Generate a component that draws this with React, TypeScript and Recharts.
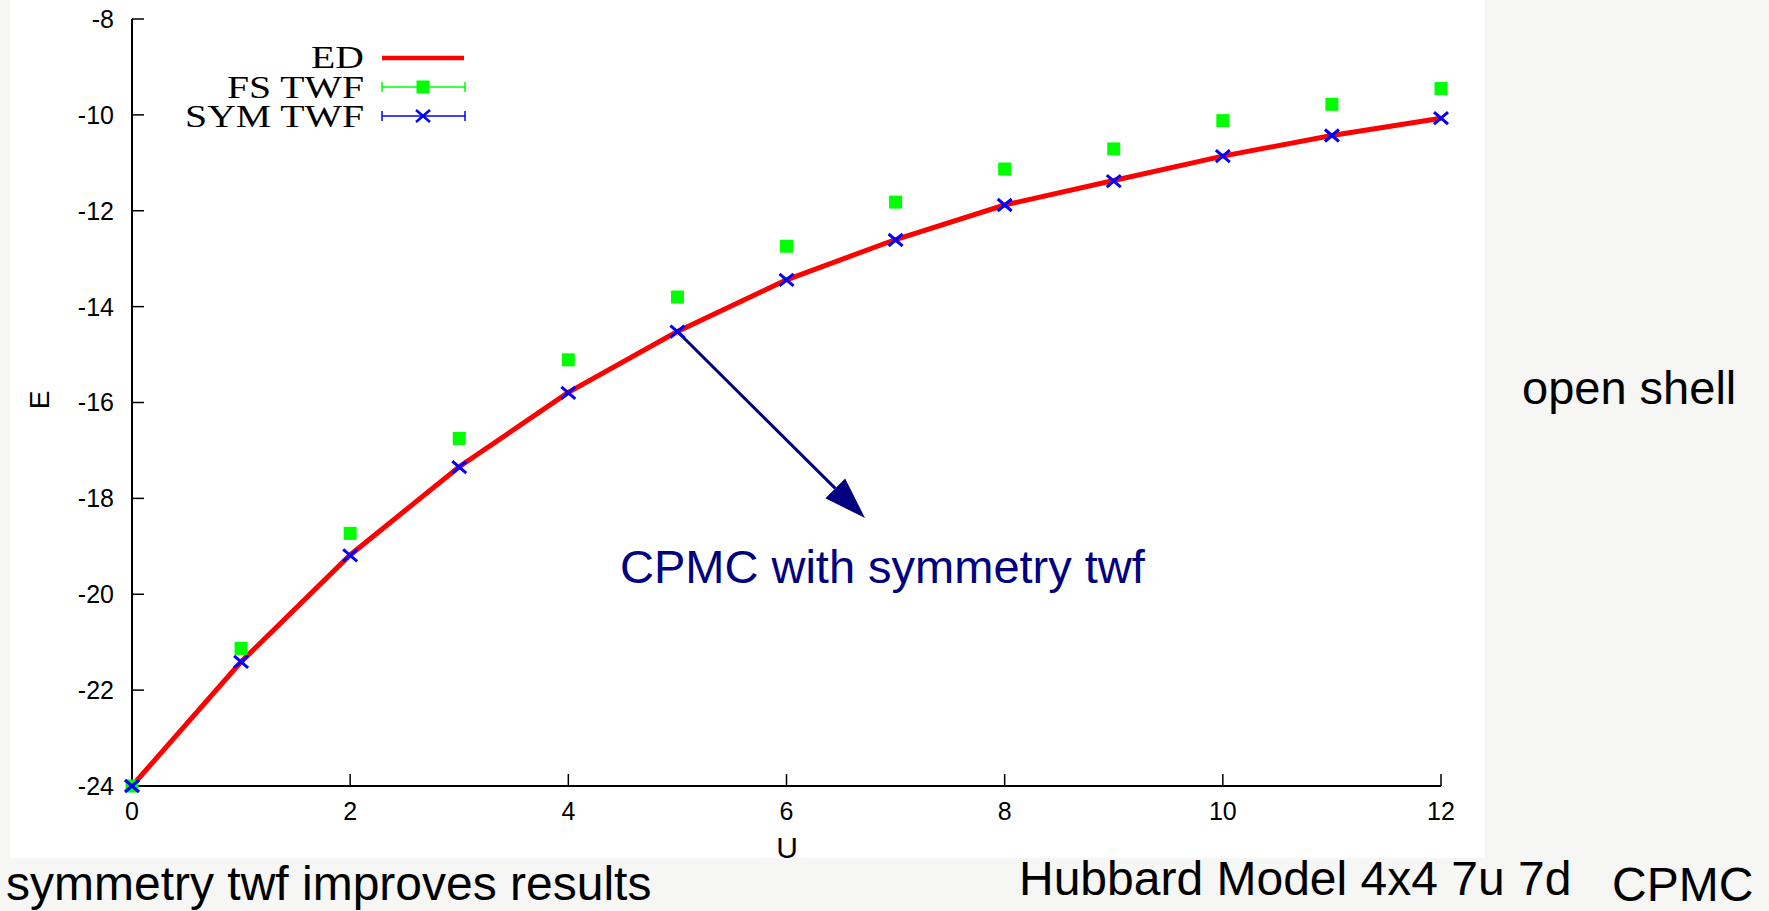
import {
	ComposedChart,
	Legend,
	Line,
	ReferenceLine,
	Scatter,
	XAxis,
	YAxis,
} from 'recharts';

const uValues = [0, 1, 2, 3, 4, 5, 6, 7, 8, 9, 10, 11, 12];
const edEnergy = [
	-24, -21.41, -19.18, -17.34, -15.79, -14.52, -13.44, -12.6, -11.88, -11.37,
	-10.86, -10.43, -10.07,
];
const fsTwfEnergy = [
	-24, -21.13, -18.73, -16.75, -15.11, -13.8, -12.74, -11.82, -11.13, -10.71,
	-10.12, -9.78, -9.45,
];
const symTwfEnergy = [
	-24, -21.41, -19.19, -17.35, -15.8, -14.52, -13.44, -12.61, -11.88, -11.38,
	-10.86, -10.43, -10.07,
];
const xTicks = [0, 2, 4, 6, 8, 10, 12];
const yTicks = [-24, -22, -20, -18, -16, -14, -12, -10, -8];

// annotation arrow, in data units
const arrowFrom = { x: 5, y: -14.52 };
const arrowTo = { x: 6.72, y: -18.41 };

const rows = uValues.map((u, i) => ({
	u,
	ed: edEnergy[i],
	fs: fsTwfEnergy[i],
	sym: symTwfEnergy[i],
}));

const SANS = '"Liberation Sans", Arial, sans-serif';
const SERIF = '"Liberation Serif", "Times New Roman", serif';
const RED = '#ff0000';
const GREEN = '#00ff00';
const BLUE = '#0000ff';
const NAVY = '#000080';

const tickStyle = { fill: '#000', fontSize: 25, fontFamily: SANS };

const SquareDot = (p: any) => (
	<rect x={p.cx - 6.5} y={p.cy - 6.5} width={13} height={13} fill={GREEN} />
);

const CrossDot = (p: any) => (
	<g stroke={BLUE} strokeWidth={3}>
		<line x1={p.cx - 7} y1={p.cy - 6} x2={p.cx + 7} y2={p.cy + 6} />
		<line x1={p.cx - 7} y1={p.cy + 6} x2={p.cx + 7} y2={p.cy - 6} />
	</g>
);

const Arrow = (p: any) => {
	const { x1, y1, x2, y2 } = p;
	const dx = x2 - x1;
	const dy = y2 - y1;
	const len = Math.hypot(dx, dy) || 1;
	const ux = dx / len;
	const uy = dy / len;
	const head = 42;
	const half = 14;
	const bx = x2 - ux * head;
	const by = y2 - uy * head;
	const pts = [
		`${x2},${y2}`,
		`${bx - uy * half},${by + ux * half}`,
		`${bx + uy * half},${by - ux * half}`,
	].join(' ');
	return (
		<g>
			<line x1={x1} y1={y1} x2={bx} y2={by} stroke={NAVY} strokeWidth={3} />
			<polygon points={pts} fill={NAVY} />
		</g>
	);
};

const renderLegend = () => (
	<svg width={480} height={140} style={{ display: 'block' }}>
		<g fontFamily={SERIF} fontSize={31} fill="#000" textAnchor="end">
			<text transform="translate(364,68) scale(1.28,1)">ED</text>
			<text transform="translate(364,98) scale(1.28,1)">FS TWF</text>
			<text transform="translate(364,127) scale(1.28,1)">SYM TWF</text>
		</g>
		<line x1={382} y1={58} x2={464} y2={58} stroke={RED} strokeWidth={4.5} />
		<g stroke={GREEN} strokeWidth={1.5}>
			<line x1={382} y1={87} x2={465} y2={87} />
			<line x1={382} y1={82} x2={382} y2={92} />
			<line x1={465} y1={82} x2={465} y2={92} />
		</g>
		<rect x={416.5} y={80.5} width={13} height={13} fill={GREEN} />
		<g stroke={BLUE} strokeWidth={1.5}>
			<line x1={382} y1={116} x2={465} y2={116} />
			<line x1={382} y1={111} x2={382} y2={121} />
			<line x1={465} y1={111} x2={465} y2={121} />
		</g>
		<g stroke={BLUE} strokeWidth={2.5}>
			<line x1={416} y1={110} x2={430} y2={122} />
			<line x1={416} y1={122} x2={430} y2={110} />
		</g>
	</svg>
);

export default function App() {
	return (
		<div
			style={{
				position: 'absolute',
				left: 0,
				top: 0,
				width: 1769,
				height: 911,
				background: '#f6f6f4',
				overflow: 'hidden',
			}}
		>
			<div
				style={{
					position: 'absolute',
					left: 10,
					top: 0,
					width: 1475,
					height: 858,
					background: '#ffffff',
				}}
			/>
			<div style={{ position: 'absolute', left: 0, top: 0 }}>
				<ComposedChart
					width={1480}
					height={860}
					data={rows}
					margin={{ top: 19, right: 39, bottom: 0, left: 0 }}
				>
					<XAxis
						dataKey="u"
						type="number"
						domain={[0, 12]}
						ticks={xTicks}
						interval={0}
						height={74}
						tickSize={-12}
						tickMargin={28}
						tick={tickStyle}
						axisLine={{ stroke: '#000', strokeWidth: 2 }}
						tickLine={{ stroke: '#000', strokeWidth: 1.5 }}
					/>
					<XAxis
						xAxisId="top"
						orientation="top"
						type="number"
						domain={[0, 12]}
						ticks={xTicks}
						interval={0}
						height={0}
						tickSize={-12}
						tick={() => <g />}
						axisLine={{ stroke: '#000', strokeWidth: 2 }}
						tickLine={{ stroke: '#000', strokeWidth: 1.5 }}
					/>
					<YAxis
						type="number"
						domain={[-24, -8]}
						ticks={yTicks}
						interval={0}
						width={132}
						tickSize={-12}
						tickMargin={30}
						tick={tickStyle}
						axisLine={{ stroke: '#000', strokeWidth: 2 }}
						tickLine={{ stroke: '#000', strokeWidth: 1.5 }}
					/>
					<YAxis
						yAxisId="right"
						orientation="right"
						type="number"
						domain={[-24, -8]}
						ticks={yTicks}
						interval={0}
						width={0}
						tickSize={-12}
						tick={() => <g />}
						axisLine={{ stroke: '#000', strokeWidth: 2 }}
						tickLine={{ stroke: '#000', strokeWidth: 1.5 }}
					/>
					<Legend
						content={renderLegend}
						layout="horizontal"
						verticalAlign="middle"
						align="center"
						wrapperStyle={{ top: 0, left: 0, width: 480, height: 140 }}
					/>
					<Line
						dataKey="ed"
						name="ED"
						type="linear"
						stroke={RED}
						strokeWidth={5}
						dot={false}
						activeDot={false}
						isAnimationActive={false}
					/>
					<Scatter
						dataKey="fs"
						name="FS TWF"
						shape={SquareDot}
						isAnimationActive={false}
					/>
					<Scatter
						dataKey="sym"
						name="SYM TWF"
						shape={CrossDot}
						isAnimationActive={false}
					/>
					<ReferenceLine
						segment={[arrowFrom, arrowTo]}
						ifOverflow="visible"
						shape={Arrow}
					/>
				</ComposedChart>
			</div>
			<svg
				width={1769}
				height={911}
				style={{ position: 'absolute', left: 0, top: 0, pointerEvents: 'none' }}
			>
				<g fontFamily={SANS} fill="#000">
					<text x={787} y={858} fontSize={30} textAnchor="middle">
						U
					</text>
					<text
						transform="translate(49,400) rotate(-90)"
						fontSize={28}
						textAnchor="middle"
					>
						E
					</text>
					<text x={1522} y={404} fontSize={47}>
						open shell
					</text>
					<text x={6} y={900} fontSize={48}>
						symmetry twf improves results
					</text>
					<text x={1019} y={895} fontSize={48}>
						Hubbard Model 4x4 7u 7d
					</text>
					<text x={1612} y={901} fontSize={48}>
						CPMC
					</text>
					<text x={620} y={583} fontSize={47} fill={NAVY}>
						CPMC with symmetry twf
					</text>
				</g>
			</svg>
		</div>
	);
}
